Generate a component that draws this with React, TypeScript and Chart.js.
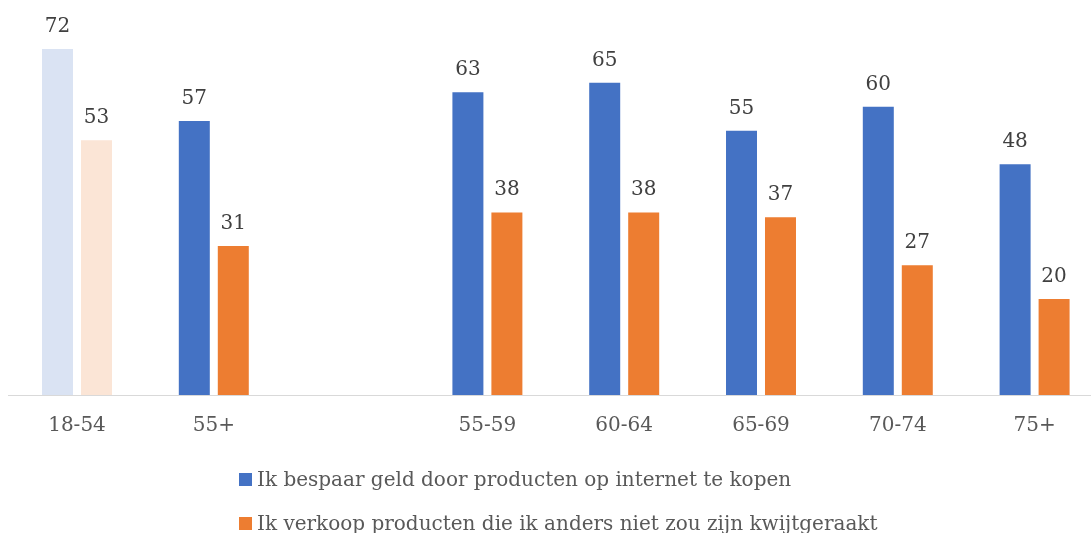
import React, { useEffect, useRef } from 'react';
import { Chart, registerables } from 'chart.js';

Chart.register(...registerables);

const categories = ['18-54', '55+', '', '55-59', '60-64', '65-69', '70-74', '75+'];
const seriesLabels = [
  'Ik bespaar geld door producten op internet te kopen',
  'Ik verkoop producten die ik anders niet zou zijn kwijtgeraakt',
];
const saveMoney = [72, 57, null, 63, 65, 55, 60, 48];
const sellProducts = [53, 31, null, 38, 38, 37, 27, 20];
const blueMain = '#4472C4';
const orangeMain = '#ED7D31';
const blueColors = ['#DAE3F3', blueMain, blueMain, blueMain, blueMain, blueMain, blueMain, blueMain];
const orangeColors = ['#FBE5D6', orangeMain, orangeMain, orangeMain, orangeMain, orangeMain, orangeMain, orangeMain];
const legendColors = [blueMain, orangeMain];

const FONT = '"DejaVu Serif", serif';

const valueLabels = {
  id: 'valueLabels',
  afterDatasetsDraw(chart: any) {
    const ctx = chart.ctx;
    ctx.save();
    ctx.font = `20px ${FONT}`;
    ctx.fillStyle = '#404040';
    ctx.textAlign = 'center';
    ctx.textBaseline = 'alphabetic';
    chart.data.datasets.forEach((ds: any, i: number) => {
      const meta = chart.getDatasetMeta(i);
      meta.data.forEach((el: any, j: number) => {
        const v = ds.data[j];
        if (v == null) return;
        ctx.fillText(String(v), el.x, el.y - 17);
      });
    });
    ctx.restore();
  },
};

const customLegend = {
  id: 'customLegend',
  afterDraw(chart: any) {
    const ctx = chart.ctx;
    ctx.save();
    ctx.font = `20px ${FONT}`;
    ctx.textAlign = 'left';
    ctx.textBaseline = 'alphabetic';
    const baselines = [486, 530];
    seriesLabels.forEach((label, i) => {
      const b = baselines[i];
      ctx.fillStyle = legendColors[i];
      ctx.fillRect(239, b - 13, 13, 13);
      ctx.fillStyle = '#595959';
      ctx.fillText(label, 257, b);
    });
    ctx.restore();
  },
};

export default function App() {
  const ref = useRef<HTMLCanvasElement | null>(null);
  useEffect(() => {
    if (!ref.current) return;
    const chart = new Chart(ref.current, {
      type: 'bar',
      data: {
        labels: categories,
        datasets: [
          {
            label: seriesLabels[0],
            data: saveMoney,
            backgroundColor: blueColors,
            borderWidth: 0,
            barPercentage: 0.795,
            categoryPercentage: 0.57,
          },
          {
            label: seriesLabels[1],
            data: sellProducts,
            backgroundColor: orangeColors,
            borderWidth: 0,
            barPercentage: 0.795,
            categoryPercentage: 0.57,
          },
        ],
      },
      options: {
        responsive: false,
        animation: false,
        layout: { padding: { left: 8.6, right: 1, top: 10.6, bottom: 98 } },
        plugins: {
          legend: { display: false },
          tooltip: { enabled: false },
        },
        scales: {
          x: {
            grid: { display: false, drawTicks: false },
            border: { display: true, color: '#D9D9D9', width: 1 },
            ticks: {
              color: '#595959',
              font: { family: FONT, size: 20 },
              padding: 19,
              maxRotation: 0,
              autoSkip: false,
            },
            afterFit: (s: any) => {
              s.height = 40;
            },
          },
          y: {
            display: false,
            min: 0,
            max: 80,
          },
        },
      },
      plugins: [valueLabels, customLegend],
    });
    return () => chart.destroy();
  }, []);
  return (
    <div style={{ position: 'fixed', left: 0, top: 0, width: 1091, height: 533, overflow: 'hidden', background: '#fff' }}>
      <canvas ref={ref} width={1104} height={533} style={{ display: 'block' }} />
    </div>
  );
}
